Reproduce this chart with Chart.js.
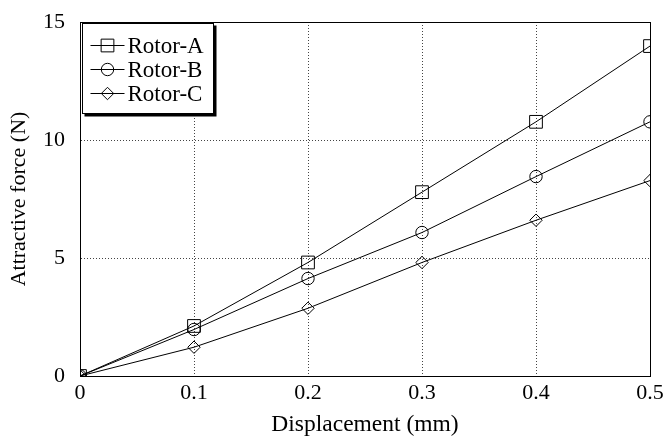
<!DOCTYPE html>
<html>
<head>
<meta charset="utf-8">
<script src="https://cdn.jsdelivr.net/npm/chart.js@4/dist/chart.umd.min.js"></script>
<style>
  html, body { margin: 0; padding: 0; background: #fff; }
  #wrap { width: 663px; height: 439px; }
</style>
</head>
<body>
<div id="wrap"><canvas id="c" width="663" height="439"></canvas></div>
<script>
// Displacement (mm) and attractive force (N) for each rotor
const displacement = [0, 0.1, 0.2, 0.3, 0.4, 0.5];
const rotorA = [0, 2.12, 4.81, 7.79, 10.77, 13.98];
const rotorB = [0, 1.97, 4.13, 6.08, 8.45, 10.77];
const rotorC = [0, 1.22, 2.87, 4.81, 6.60, 8.28];
const seriesNames = ['Rotor-A', 'Rotor-B', 'Rotor-C'];
const xTicks = [0, 0.1, 0.2, 0.3, 0.4, 0.5];
const yTicks = [0, 5, 10, 15];

const FONT = "'Liberation Serif', 'Times New Roman', serif";

function pts(ys) { return displacement.map((x, i) => ({ x: x, y: ys[i] })); }

const styles = [
  { pointStyle: 'rect', pointRadius: 9 },
  { pointStyle: 'circle', pointRadius: 6.2 },
  { pointStyle: 'rectRot', pointRadius: 6.2 }
];

const datasets = [rotorA, rotorB, rotorC].map((ys, i) => ({
  label: seriesNames[i],
  data: pts(ys),
  borderColor: '#000',
  borderWidth: 1,
  backgroundColor: 'rgba(0,0,0,0)',
  pointBackgroundColor: 'rgba(0,0,0,0)',
  pointBorderColor: '#000',
  pointBorderWidth: 1,
  pointStyle: styles[i].pointStyle,
  pointRadius: styles[i].pointRadius,
  tension: 0
}));

// Solid frame around the plotting area
const framePlugin = {
  id: 'frame',
  afterDatasetsDraw(chart) {
    const { ctx, chartArea: a } = chart;
    ctx.save();
    ctx.strokeStyle = '#000';
    ctx.lineWidth = 1;
    ctx.strokeRect(Math.round(a.left) + 0.5, Math.round(a.top) + 0.5,
                   Math.round(a.right - a.left), Math.round(a.bottom - a.top));
    ctx.restore();
  }
};

// Boxed legend with drop shadow in the upper-left corner of the plot
const boxLegend = {
  id: 'boxLegend',
  afterDraw(chart) {
    const { ctx, chartArea: a } = chart;
    const x0 = Math.round(a.left) + 2.5, y0 = Math.round(a.top) + 1.5, w = 131, h = 90;
    ctx.save();
    ctx.fillStyle = '#000';
    ctx.fillRect(x0 + 2, y0 + 2, w + 1, h + 1);
    ctx.fillStyle = '#fff';
    ctx.fillRect(x0, y0, w, h);
    ctx.strokeStyle = '#000';
    ctx.lineWidth = 1;
    ctx.strokeRect(x0, y0, w, h);
    ctx.font = '23px ' + FONT;
    ctx.textBaseline = 'middle';
    ctx.textAlign = 'left';
    chart.data.datasets.forEach((ds, i) => {
      const cy = Math.round(y0 + 21 + i * 24) + 0.5;
      ctx.beginPath();
      ctx.moveTo(x0 + 8, cy);
      ctx.lineTo(x0 + 42, cy);
      ctx.strokeStyle = '#000';
      ctx.stroke();
      ctx.fillStyle = 'rgba(0,0,0,0)';
      Chart.helpers.drawPoint(ctx, {
        pointStyle: ds.pointStyle,
        radius: ds.pointRadius,
        borderWidth: 1,
        rotation: 0
      }, x0 + 25, cy);
      ctx.fillStyle = '#000';
      ctx.fillText(ds.label, x0 + 45, cy + 1);
    });
    ctx.restore();
  }
};

function noOverflow(s) {
  s.paddingLeft = 0; s.paddingRight = 0; s.paddingTop = 0; s.paddingBottom = 0;
}

new Chart(document.getElementById('c'), {
  type: 'line',
  data: { datasets: datasets },
  plugins: [framePlugin, boxLegend],
  options: {
    responsive: false,
    animation: false,
    devicePixelRatio: 1,
    layout: { padding: { top: 22, right: 13, left: 0, bottom: 0 } },
    plugins: { legend: { display: false }, tooltip: { enabled: false } },
    scales: {
      x: {
        type: 'linear',
        min: 0, max: 0.5,
        afterBuildTicks(s) { s.ticks = xTicks.map(v => ({ value: v })); },
        afterFit(s) { s.height = 63; noOverflow(s); },
        ticks: {
          color: '#000',
          font: { family: FONT, size: 22 },
          padding: 4,
          maxRotation: 0,
          callback: v => String(v)
        },
        grid: {
          color: '#444',
          lineWidth: 1,
          drawTicks: false,
          tickLength: 0
        },
        // dotted grid lines
        border: { display: true, color: '#000', dash: [1, 2] },
        title: {
          display: true,
          text: 'Displacement (mm)',
          color: '#000',
          font: { family: FONT, size: 23.5 },
          padding: { top: 0, bottom: 0 }
        }
      },
      y: {
        type: 'linear',
        min: 0, max: 15,
        afterBuildTicks(s) { s.ticks = yTicks.map(v => ({ value: v })); },
        afterFit(s) { s.width = 80; noOverflow(s); },
        ticks: {
          color: '#000',
          font: { family: FONT, size: 22 },
          padding: 15
        },
        grid: {
          color: '#444',
          lineWidth: 1,
          drawTicks: false,
          tickLength: 0
        },
        border: { display: true, color: '#000', dash: [1, 2] },
        title: {
          display: true,
          text: 'Attractive force (N)',
          color: '#000',
          font: { family: FONT, size: 22 },
          padding: { top: 6, bottom: 0 }
        }
      }
    }
  }
});
</script>
</body>
</html>
